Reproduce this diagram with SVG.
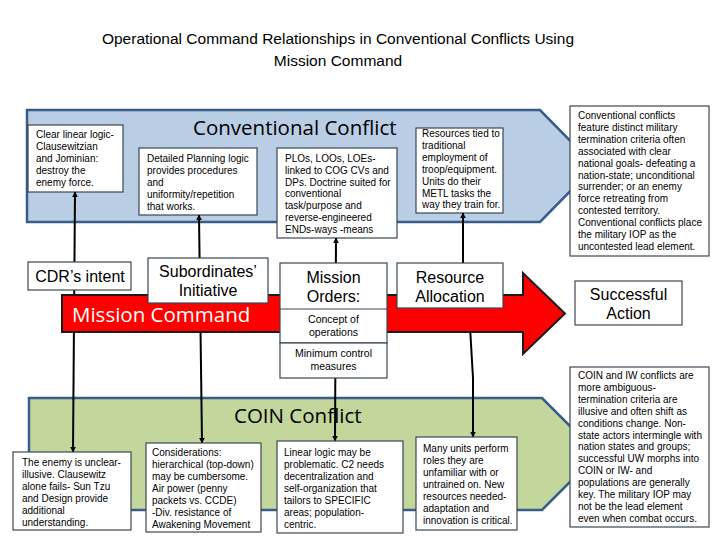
<svg xmlns="http://www.w3.org/2000/svg" width="720" height="540" viewBox="0 0 720 540">
<defs>
<style>
.title{font-family:"Liberation Sans",Arial,sans-serif;font-size:15.5px;fill:#000;text-anchor:middle}
.band{font-family:"Open Sans","Liberation Sans",sans-serif;font-size:20.5px;fill:#000}
.box{fill:#fff;stroke:#3a4654;stroke-width:1.2}
.sm{font-family:"Liberation Sans",Arial,sans-serif;font-size:10px;fill:#000}
.md{font-family:"Liberation Sans",Arial,sans-serif;font-size:10.5px;fill:#000;text-anchor:middle}
.lg{font-family:"Liberation Sans",Arial,sans-serif;font-size:16px;fill:#000;text-anchor:middle}
.conn{stroke:#000;stroke-width:2;fill:none;marker-start:url(#tip);marker-end:url(#tip)}
</style>
<marker id="tip" viewBox="0 0 10 10" refX="9" refY="5" markerWidth="3" markerHeight="3" orient="auto-start-reverse">
<path d="M0,0 L10,5 L0,10 z" fill="#000"/>
</marker>
</defs>
<rect width="720" height="540" fill="#fff"/>

<g id="title">
<text class="title" x="338" y="44">Operational Command Relationships in Conventional Conflicts Using</text>
<text class="title" x="338" y="66">Mission Command</text>
</g>

<g id="conventional-band">
<polygon points="27,110 540,110 595,166 540,222 27,222" fill="#b9cde5" stroke="#385d8a" stroke-width="2.5"/>
<text class="band" x="193" y="135">Conventional Conflict</text>
</g>

<g id="coin-band">
<polygon points="29,398 542,398 598,454 542,510 29,510" fill="#c3d69b" stroke="#385d8a" stroke-width="2.5"/>
<text class="band" x="234" y="423">COIN Conflict</text>
</g>

<g id="conv-box1">
<rect class="box" x="28" y="125" width="95" height="67"/>
<text class="sm" x="36" y="138"><tspan x="36">Clear linear logic-</tspan><tspan x="36" dy="12">Clausewitzian</tspan><tspan x="36" dy="12">and Jominian:</tspan><tspan x="36" dy="12">destroy the</tspan><tspan x="36" dy="12">enemy force.</tspan></text>
</g>
<g id="conv-box2">
<rect class="box" x="139" y="148" width="118" height="67"/>
<text class="sm" x="147" y="162"><tspan x="147">Detailed Planning logic</tspan><tspan x="147" dy="12">provides procedures</tspan><tspan x="147" dy="12">and</tspan><tspan x="147" dy="12">uniformity/repetition</tspan><tspan x="147" dy="12">that works.</tspan></text>
</g>
<g id="conv-box3">
<rect class="box" x="277" y="148" width="120" height="90"/>
<text class="sm" x="285" y="162"><tspan x="285">PLOs, LOOs, LOEs-</tspan><tspan x="285" dy="11.8">linked to COG CVs and</tspan><tspan x="285" dy="11.8">DPs. Doctrine suited for</tspan><tspan x="285" dy="11.8">conventional</tspan><tspan x="285" dy="11.8">task/purpose and</tspan><tspan x="285" dy="11.8">reverse-engineered</tspan><tspan x="285" dy="11.8">ENDs-ways -means</tspan></text>
</g>
<g id="conv-box4">
<rect class="box" x="416" y="128" width="87" height="85"/>
<text class="sm" x="422" y="137"><tspan x="422">Resources tied to</tspan><tspan x="422" dy="11.9">traditional</tspan><tspan x="422" dy="11.9">employment of</tspan><tspan x="422" dy="11.9">troop/equipment.</tspan><tspan x="422" dy="11.9">Units do their</tspan><tspan x="422" dy="11.9">METL tasks the</tspan><tspan x="422" dy="11.9">way they train for.</tspan></text>
</g>
<g id="conv-summary">
<rect class="box" x="570" y="106" width="139" height="150"/>
<text class="sm" x="578" y="119"><tspan x="578">Conventional conflicts</tspan><tspan x="578" dy="11.9">feature distinct military</tspan><tspan x="578" dy="11.9">termination criteria often</tspan><tspan x="578" dy="11.9">associated with clear</tspan><tspan x="578" dy="11.9">national goals- defeating a</tspan><tspan x="578" dy="11.9">nation-state; unconditional</tspan><tspan x="578" dy="11.9">surrender; or an enemy</tspan><tspan x="578" dy="11.9">force retreating from</tspan><tspan x="578" dy="11.9">contested territory.</tspan><tspan x="578" dy="11.9">Conventional conflicts place</tspan><tspan x="578" dy="11.9">the military IOP as the</tspan><tspan x="578" dy="11.9">uncontested lead element.</tspan></text>
</g>

<g id="connectors">
<path class="conn" d="M75,192 L73,452"/>
<path class="conn" d="M199,215 L202,443"/>
<path class="conn" d="M336,238 L335,441"/>
<path class="conn" d="M463,213 L463,290 L469,310 L473,378 L473,437"/>
</g>

<g id="mission-command">
<polygon points="62,295 523,295 523,273 565,313.5 523,354 523,332 62,332" fill="#ff0000" stroke="#1a1a1a" stroke-width="2"/>
<text class="band" x="72" y="322" style="fill:#fff">Mission Command</text>
</g>

<g id="cdr-intent">
<rect class="box" x="28" y="262" width="103" height="28"/>
<text class="lg" x="80" y="282">CDR’s intent</text>
</g>
<g id="subordinates-initiative">
<rect class="box" x="148" y="258" width="120" height="45"/>
<text class="lg" x="208" y="277"><tspan x="208">Subordinates’</tspan><tspan x="208" dy="19">Initiative</tspan></text>
</g>
<g id="mission-orders">
<rect class="box" x="280" y="263" width="107" height="80"/>
<line x1="280" y1="309" x2="387" y2="309" stroke="#3a4654" stroke-width="1.2"/>
<text class="lg" x="333.5" y="283"><tspan x="333.5">Mission</tspan><tspan x="333.5" dy="19">Orders:</tspan></text>
<text class="md" x="333.5" y="323"><tspan x="333.5">Concept of</tspan><tspan x="333.5" dy="13">operations</tspan></text>
</g>
<g id="minimum-control">
<rect class="box" x="280" y="343" width="107" height="35"/>
<text class="md" x="333.5" y="357"><tspan x="333.5">Minimum control</tspan><tspan x="333.5" dy="13">measures</tspan></text>
</g>
<g id="resource-allocation">
<rect class="box" x="397" y="263" width="106" height="45"/>
<text class="lg" x="450" y="283"><tspan x="450">Resource</tspan><tspan x="450" dy="19">Allocation</tspan></text>
</g>
<g id="successful-action">
<rect class="box" x="575" y="281" width="107" height="44"/>
<text class="lg" x="628.5" y="300"><tspan x="628.5">Successful</tspan><tspan x="628.5" dy="19">Action</tspan></text>
</g>

<g id="coin-box1">
<rect class="box" x="13" y="452" width="118" height="78"/>
<text class="sm" x="22" y="466"><tspan x="22">The enemy is unclear-</tspan><tspan x="22" dy="12">illusive. Clausewitz</tspan><tspan x="22" dy="12">alone fails- Sun Tzu</tspan><tspan x="22" dy="12">and Design provide</tspan><tspan x="22" dy="12">additional</tspan><tspan x="22" dy="12">understanding.</tspan></text>
</g>
<g id="coin-box2">
<rect class="box" x="146" y="443" width="115" height="89"/>
<text class="sm" x="152" y="456"><tspan x="152">Considerations:</tspan><tspan x="152" dy="12">hierarchical (top-down)</tspan><tspan x="152" dy="12">may be cumbersome.</tspan><tspan x="152" dy="12">Air power (penny</tspan><tspan x="152" dy="12">packets vs. CCDE)</tspan><tspan x="152" dy="12">-Div. resistance of</tspan><tspan x="152" dy="12">Awakening Movement</tspan></text>
</g>
<g id="coin-box3">
<rect class="box" x="277" y="441" width="126" height="92"/>
<text class="sm" x="284" y="456"><tspan x="284">Linear logic may be</tspan><tspan x="284" dy="12">problematic. C2 needs</tspan><tspan x="284" dy="12">decentralization and</tspan><tspan x="284" dy="12">self-organization that</tspan><tspan x="284" dy="12">tailors to SPECIFIC</tspan><tspan x="284" dy="12">areas; population-</tspan><tspan x="284" dy="12">centric.</tspan></text>
</g>
<g id="coin-box4">
<rect class="box" x="416" y="437" width="101" height="93"/>
<text class="sm" x="423" y="452"><tspan x="423">Many units perform</tspan><tspan x="423" dy="12">roles they are</tspan><tspan x="423" dy="12">unfamiliar with or</tspan><tspan x="423" dy="12">untrained on. New</tspan><tspan x="423" dy="12">resources needed-</tspan><tspan x="423" dy="12">adaptation and</tspan><tspan x="423" dy="12">innovation is critical.</tspan></text>
</g>
<g id="coin-summary">
<rect class="box" x="570" y="367" width="139" height="160"/>
<text class="sm" x="578" y="379"><tspan x="578">COIN and IW conflicts are</tspan><tspan x="578" dy="11.9">more ambiguous-</tspan><tspan x="578" dy="11.9">termination criteria are</tspan><tspan x="578" dy="11.9">illusive and often shift as</tspan><tspan x="578" dy="11.9">conditions change. Non-</tspan><tspan x="578" dy="11.9">state actors intermingle with</tspan><tspan x="578" dy="11.9">nation states and groups;</tspan><tspan x="578" dy="11.9">successful UW morphs into</tspan><tspan x="578" dy="11.9">COIN or IW- and</tspan><tspan x="578" dy="11.9">populations are generally</tspan><tspan x="578" dy="11.9">key. The military IOP may</tspan><tspan x="578" dy="11.9">not be the lead element</tspan><tspan x="578" dy="11.9">even when combat occurs.</tspan></text>
</g>
</svg>
